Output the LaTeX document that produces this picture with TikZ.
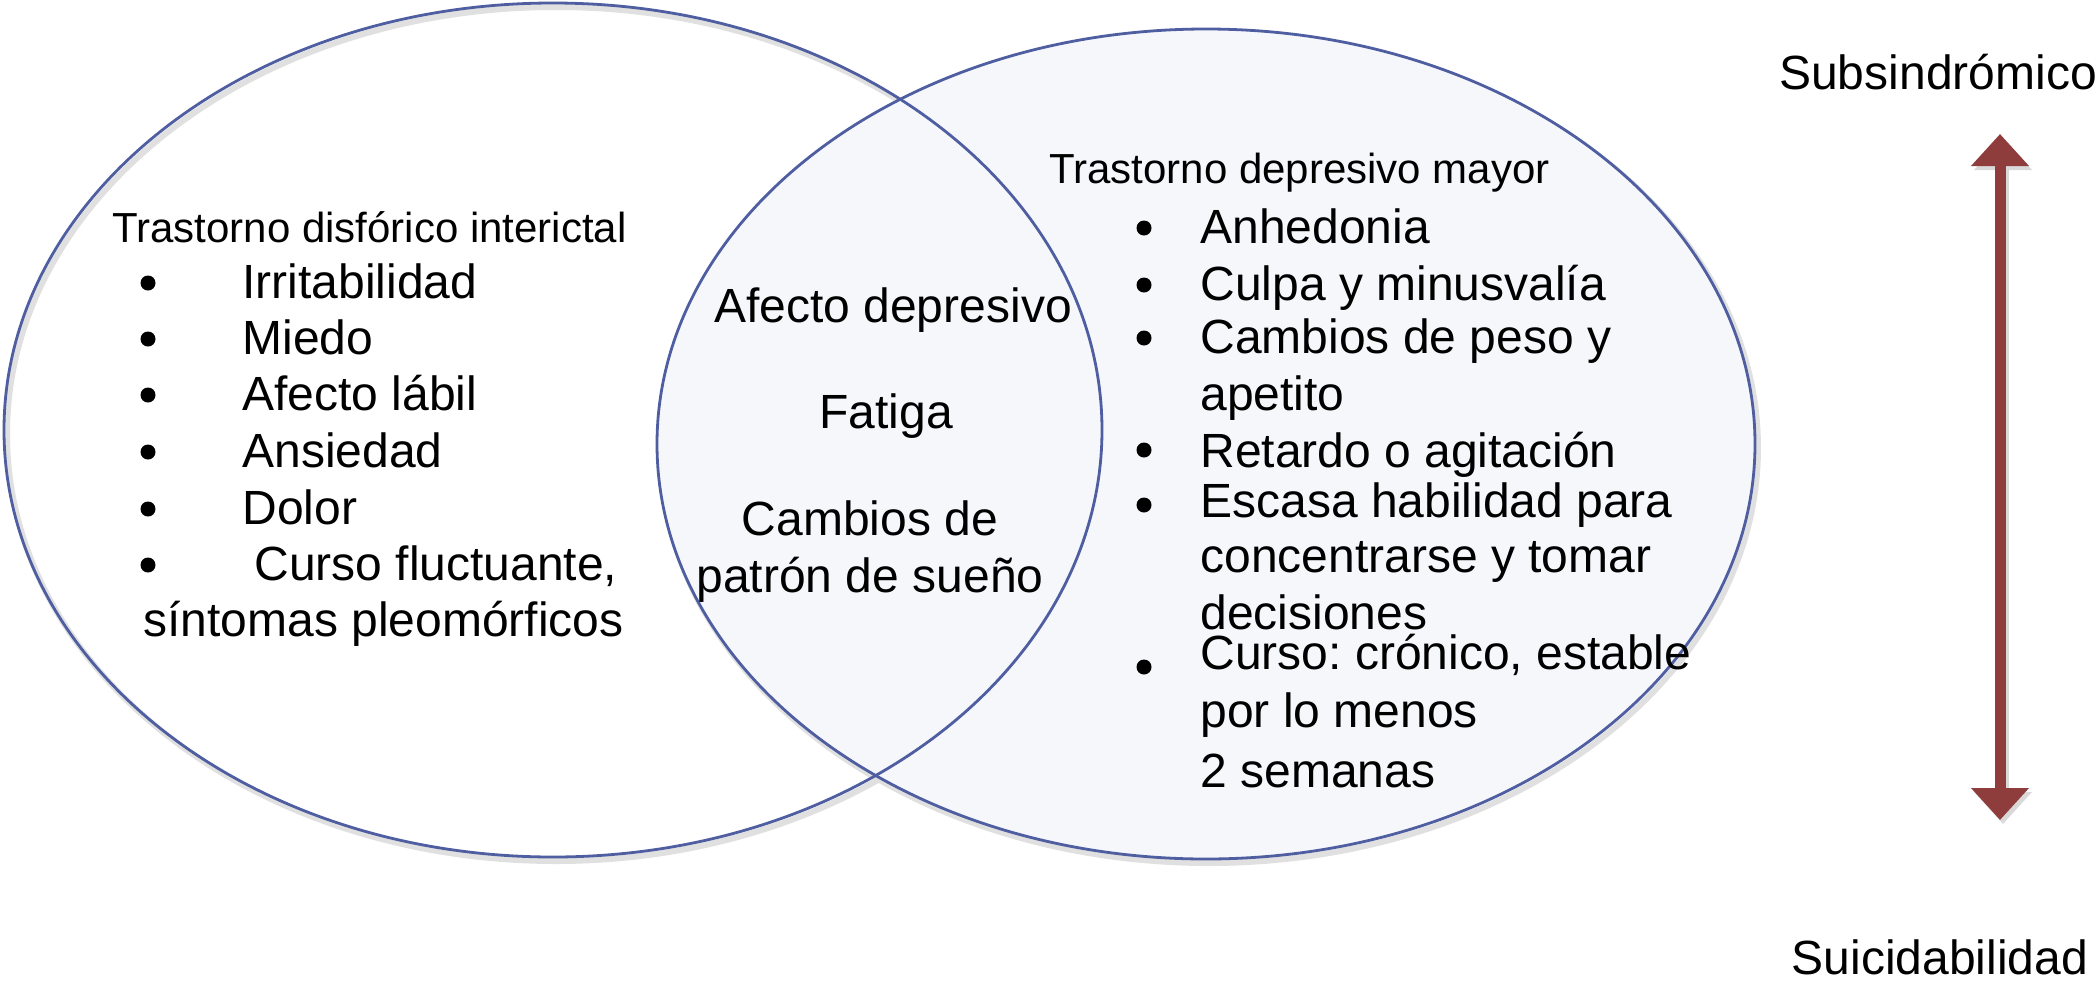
\documentclass[tikz,border=0pt]{standalone}
\usepackage{fontspec}
\setmainfont{Liberation Sans}
\usetikzlibrary{shapes.geometric,arrows.meta}
\definecolor{vline}{RGB}{78,94,160}
\definecolor{vfill}{RGB}{246,247,251}
\definecolor{arrowred}{RGB}{142,60,60}
\tikzset{
  item/.style={anchor=base west, inner sep=0pt, font=\fontsize{24}{28}\selectfont},
  ctr/.style={anchor=base, inner sep=0pt, font=\fontsize{24}{28}\selectfont},
  head/.style={anchor=base west, inner sep=0pt, font=\fontsize{21}{25}\selectfont},
  bul/.style={circle, fill=black, inner sep=0pt, minimum size=7.5pt},
  venn/.style={ellipse, draw=vline, line width=1.4pt, inner sep=0pt},
  vshadow/.style={ellipse, draw=black!12, line width=3pt, inner sep=0pt},
}
\frenchspacing
\begin{document}
\begin{tikzpicture}[x=0.5pt,y=-0.5pt]
\useasboundingbox (0,0) rectangle (2100,986);
% shadows
\node[vshadow, minimum width=549pt, minimum height=427pt] (lsh) at (556,434) {};
\node[vshadow, minimum width=549pt, minimum height=415pt] (rsh) at (1209,448) {};
% ellipses
\node[venn, fill=vfill, minimum width=549pt, minimum height=415pt] (right) at (1206,444) {};
\node[venn, minimum width=549pt, minimum height=427pt] (left) at (553,430) {};

% left set
\node[head] (lh) at (112,242) {Trastorno disfórico interictal};
\node[bul] (lb1) at (148,283) {};
\node[item] (l1) at (242,298) {Irritabilidad};
\node[bul] (lb2) at (148,339) {};
\node[item] (l2) at (242,354) {Miedo};
\node[bul] (lb3) at (148,395) {};
\node[item] (l3) at (242,410) {Afecto lábil};
\node[bul] (lb4) at (148,452) {};
\node[item] (l4) at (242,467) {Ansiedad};
\node[bul] (lb5) at (148,509) {};
\node[item] (l5) at (242,524) {Dolor};
\node[bul] (lb6) at (148,565) {};
\node[item] (l6) at (254,580) {Curso fluctuante,};
\node[item] (l7) at (143,636) {síntomas pleomórficos};

% intersection
\node[ctr] (c1) at (893,322) {Afecto depresivo};
\node[ctr] (c2) at (886,428) {Fatiga};
\node[ctr] (c3) at (870,535) {Cambios de};
\node[ctr] (c4) at (870,592) {patrón de sueño};

% right set
\node[head] (rh) at (1049,183) {Trastorno depresivo mayor};
\node[bul] (rb1) at (1144,228) {};
\node[item] (r1) at (1200,243) {Anhedonia};
\node[bul] (rb2) at (1144,285) {};
\node[item] (r2) at (1200,300) {Culpa y minusvalía};
\node[bul] (rb3) at (1144,338) {};
\node[item] (r3) at (1200,353) {Cambios de peso y};
\node[item] (r3b) at (1200,410) {apetito};
\node[bul] (rb4) at (1144,450) {};
\node[item] (r4) at (1200,467) {Retardo o agitación};
\node[bul] (rb5) at (1144,505) {};
\node[item] (r5) at (1200,517) {Escasa habilidad para};
\node[item] (r5b) at (1200,572) {concentrarse y tomar};
\node[item] (r5c) at (1200,629) {decisiones};
\node[bul] (rb6) at (1144,667) {};
\node[item] (r6) at (1200,669) {Curso: crónico, estable};
\node[item] (r6b) at (1200,727) {por lo menos};
\node[item] (r6c) at (1200,787) {2 semanas};

% scale
\node[ctr] (sub) at (1938,89) {Subsindrómico};
\node[ctr] (sui) at (1940,974) {Suicidabilidad};
\coordinate (atop) at (2000,134);
\coordinate (abot) at (2000,820);
\draw[black!15, line width=5.5pt, {Triangle[width=28pt,length=16pt]}-{Triangle[width=28pt,length=16pt]}]
  ([shift={(3,4)}]atop) -- ([shift={(3,4)}]abot);
\draw[arrowred, line width=5.5pt, {Triangle[width=28pt,length=16pt]}-{Triangle[width=28pt,length=16pt]}]
  (atop) -- (abot);
\end{tikzpicture}
\end{document}
